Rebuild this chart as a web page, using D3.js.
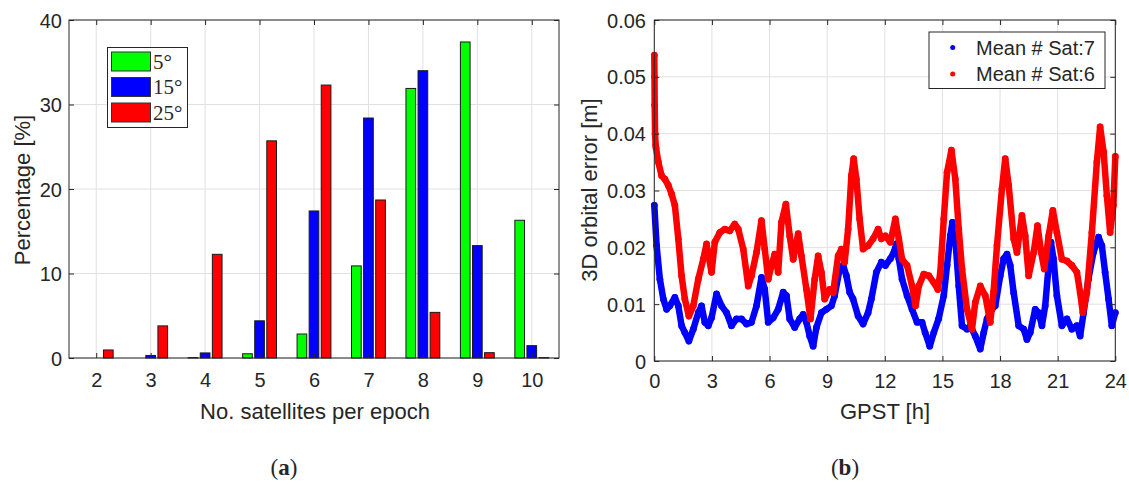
<!DOCTYPE html>
<html>
<head>
<meta charset="utf-8">
<script src="https://cdn.jsdelivr.net/npm/d3@7"></script>
<style>
  html, body { margin: 0; padding: 0; background: #fff; }
  svg { display: block; }
  text { font-family: "Liberation Sans", Arial, Helvetica, sans-serif; fill: #262626; }
</style>
</head>
<body>
<svg id="chart" width="1129" height="484"></svg>
<script>
// ---------- Data: panel (a) ----------
const satCounts = [2, 3, 4, 5, 6, 7, 8, 9, 10];
const pct5  = [0, 0, 0.05, 0.5, 2.84, 10.9, 31.9, 37.4, 16.3];
const pct15 = [0, 0.3, 0.6, 4.4, 17.4, 28.4, 34.0, 13.3, 1.46];
const pct25 = [0.95, 3.8, 12.27, 25.7, 32.3, 18.7, 5.4, 0.63, 0.05];
const seriesNamesA = ["5°", "15°", "25°"];
const yTicksA = [0, 10, 20, 30, 40];

// ---------- Data: panel (b) ----------
const blueHours = [0, 0.12, 0.29, 0.47, 0.64, 0.81, 1.07, 1.25, 1.42, 1.59, 1.80, 2.03, 2.29, 2.46, 2.63, 2.81, 2.98, 3.24, 3.50, 3.76, 4.02, 4.28, 4.54, 4.80, 5.06, 5.32, 5.58, 5.75, 5.93, 6.19, 6.45, 6.71, 6.88, 7.05, 7.31, 7.57, 7.75, 7.92, 8.09, 8.27, 8.44, 8.70, 8.96, 9.22, 9.39, 9.65, 9.83, 10.00, 10.17, 10.35, 10.61, 10.87, 11.13, 11.30, 11.56, 11.82, 12.03, 12.29, 12.47, 12.60, 12.73, 12.90, 13.16, 13.42, 13.68, 13.94, 14.10, 14.34, 14.55, 14.80, 15.07, 15.24, 15.41, 15.52, 15.67, 15.85, 16.02, 16.28, 16.45, 16.71, 16.97, 17.15, 17.32, 17.58, 17.75, 18.01, 18.19, 18.36, 18.53, 18.71, 18.97, 19.23, 19.40, 19.57, 19.83, 20.01, 20.18, 20.35, 20.53, 20.65, 20.78, 20.96, 21.22, 21.48, 21.74, 22.00, 22.17, 22.35, 22.60, 22.86, 23.13, 23.30, 23.47, 23.65, 23.82, 24.00];
const blueErr = [0.0274, 0.0203, 0.0144, 0.0109, 0.0091, 0.0097, 0.0112, 0.0097, 0.0062, 0.0050, 0.0035, 0.0056, 0.0085, 0.0097, 0.0068, 0.0062, 0.0076, 0.0118, 0.0097, 0.0085, 0.0062, 0.0074, 0.0074, 0.0065, 0.0068, 0.0097, 0.0147, 0.0126, 0.0068, 0.0076, 0.0091, 0.0121, 0.0115, 0.0074, 0.0059, 0.0074, 0.0082, 0.0068, 0.0044, 0.0026, 0.0059, 0.0085, 0.0091, 0.0097, 0.0115, 0.0162, 0.0168, 0.0150, 0.0121, 0.0109, 0.0079, 0.0065, 0.0085, 0.0109, 0.0156, 0.0174, 0.0168, 0.0180, 0.0191, 0.0206, 0.0180, 0.0144, 0.0115, 0.0091, 0.0068, 0.0068, 0.0050, 0.0026, 0.0050, 0.0074, 0.0115, 0.0168, 0.0220, 0.0244, 0.0215, 0.0132, 0.0062, 0.0056, 0.0062, 0.0044, 0.0021, 0.0050, 0.0074, 0.0091, 0.0097, 0.0150, 0.0180, 0.0188, 0.0168, 0.0120, 0.0062, 0.0056, 0.0038, 0.0050, 0.0091, 0.0085, 0.0062, 0.0097, 0.0168, 0.0209, 0.0180, 0.0115, 0.0062, 0.0074, 0.0056, 0.0062, 0.0044, 0.0085, 0.0144, 0.0191, 0.0218, 0.0203, 0.0156, 0.0109, 0.0062, 0.0085];

const redHours = [0, 0.01, 0.02, 0.04, 0.07, 0.09, 0.21, 0.38, 0.55, 0.73, 0.90, 1.07, 1.25, 1.42, 1.59, 1.80, 2.03, 2.29, 2.55, 2.72, 2.98, 3.15, 3.41, 3.67, 3.93, 4.19, 4.37, 4.63, 4.89, 5.06, 5.32, 5.58, 5.75, 5.93, 6.10, 6.27, 6.45, 6.62, 6.85, 7.05, 7.23, 7.49, 7.66, 7.92, 8.13, 8.35, 8.53, 8.70, 8.87, 9.13, 9.31, 9.57, 9.74, 9.91, 10.09, 10.26, 10.38, 10.52, 10.69, 10.87, 11.13, 11.39, 11.65, 11.82, 12.03, 12.29, 12.55, 12.73, 12.90, 13.16, 13.42, 13.60, 13.77, 14.03, 14.29, 14.55, 14.76, 14.89, 15.07, 15.24, 15.47, 15.67, 15.85, 16.02, 16.28, 16.54, 16.71, 16.97, 17.23, 17.49, 17.66, 17.84, 18.10, 18.27, 18.45, 18.71, 18.88, 19.14, 19.31, 19.49, 19.75, 19.95, 20.14, 20.30, 20.53, 20.75, 20.96, 21.22, 21.48, 21.74, 22.00, 22.17, 22.31, 22.52, 22.78, 23.04, 23.21, 23.39, 23.56, 23.73, 23.90, 24.00];
const redErr = [0.0538, 0.0500, 0.0450, 0.0400, 0.0380, 0.0375, 0.0350, 0.0326, 0.0320, 0.0309, 0.0294, 0.0274, 0.0215, 0.0150, 0.0109, 0.0079, 0.0097, 0.0144, 0.0179, 0.0206, 0.0156, 0.0209, 0.0226, 0.0232, 0.0229, 0.0241, 0.0232, 0.0197, 0.0132, 0.0150, 0.0191, 0.0247, 0.0197, 0.0144, 0.0168, 0.0188, 0.0156, 0.0244, 0.0276, 0.0220, 0.0179, 0.0224, 0.0185, 0.0126, 0.0074, 0.0144, 0.0185, 0.0156, 0.0109, 0.0126, 0.0120, 0.0185, 0.0197, 0.0174, 0.0232, 0.0326, 0.0356, 0.0320, 0.0250, 0.0197, 0.0203, 0.0215, 0.0232, 0.0215, 0.0220, 0.0209, 0.0250, 0.0215, 0.0179, 0.0168, 0.0132, 0.0097, 0.0132, 0.0153, 0.0150, 0.0138, 0.0126, 0.0156, 0.0250, 0.0332, 0.0371, 0.0320, 0.0232, 0.0162, 0.0091, 0.0056, 0.0103, 0.0132, 0.0115, 0.0068, 0.0121, 0.0203, 0.0303, 0.0356, 0.0309, 0.0215, 0.0191, 0.0256, 0.0220, 0.0150, 0.0191, 0.0238, 0.0191, 0.0162, 0.0220, 0.0265, 0.0226, 0.0179, 0.0176, 0.0168, 0.0156, 0.0120, 0.0085, 0.0120, 0.0226, 0.0350, 0.0412, 0.0368, 0.0291, 0.0226, 0.0274, 0.0360];
const seriesNamesB = ["Mean # Sat:7", "Mean # Sat:6"];
const xTicksB = [0, 3, 6, 9, 12, 15, 18, 21, 24];
const yTicksB = [0, 0.01, 0.02, 0.03, 0.04, 0.05, 0.06];

// ---------- Rendering ----------
const svg = d3.select("#chart");
const AX = "#262626", GRID = "#e0e0e0", TL = 5;
const barColors = ["#00ff00", "#0000ff", "#ff0000"];

function frame(g, x, y, xt, yt) {
  const [x0, x1] = x.range(), [y0, y1] = y.range();
  g.append("g").selectAll("line").data(xt).join("line")
    .attr("x1", d => x(d)).attr("x2", d => x(d)).attr("y1", y0).attr("y2", y1)
    .attr("stroke", GRID).attr("stroke-width", 1);
  g.append("g").selectAll("line").data(yt).join("line")
    .attr("y1", d => y(d)).attr("y2", d => y(d)).attr("x1", x0).attr("x2", x1)
    .attr("stroke", GRID).attr("stroke-width", 1);
}
function box(g, x, y, xt, yt, xFmt, yFmt, xLabY, yLabX) {
  const [x0, x1] = x.range(), [y0, y1] = y.range();
  const axB = d3.axisBottom(x).tickValues(xt).tickSizeInner(-TL).tickSizeOuter(0).tickFormat(xFmt);
  const axT = d3.axisTop(x).tickValues(xt).tickSizeInner(-TL).tickSizeOuter(0).tickFormat("");
  const axL = d3.axisLeft(y).tickValues(yt).tickSizeInner(-TL).tickSizeOuter(0).tickFormat(yFmt);
  const axR = d3.axisRight(y).tickValues(yt).tickSizeInner(-TL).tickSizeOuter(0).tickFormat("");
  const style = s => {
    s.selectAll("path").attr("stroke", AX).attr("stroke-width", 1);
    s.selectAll("line").attr("stroke", AX).attr("stroke-width", 1);
    s.selectAll("text").attr("fill", AX).style("font-size", "20px")
      .style("font-family", '"Liberation Sans", Arial, sans-serif');
  };
  g.append("g").attr("transform", `translate(0,${y0})`).call(axB).call(style)
    .selectAll("text").attr("dy", null).attr("y", xLabY - y0).attr("dominant-baseline", "central");
  g.append("g").attr("transform", `translate(0,${y1})`).call(axT).call(style);
  g.append("g").attr("transform", `translate(${x0},0)`).call(axL).call(style)
    .selectAll("text").attr("dy", null).attr("x", yLabX - x0).attr("dominant-baseline", "central");
  g.append("g").attr("transform", `translate(${x1},0)`).call(axR).call(style);
  g.selectAll(".domain").remove();
  g.append("rect").attr("x", x0).attr("y", y1).attr("width", x1 - x0).attr("height", y0 - y1)
    .attr("fill", "none").attr("stroke", AX).attr("stroke-width", 1);
}

// ----- Panel (a) -----
const xa = d3.scaleLinear().domain([1.5, 10.5]).range([69, 559]);
const ya = d3.scaleLinear().domain([0, 40]).range([358, 20]);
const ga = svg.append("g");
frame(ga, xa, ya, satCounts, yTicksA);
const unitPx = xa(3) - xa(2);
const offsets = [-0.222, 0, 0.222];
const bw = 0.178 * unitPx;
[pct5, pct15, pct25].forEach((vals, si) => {
  ga.append("g").selectAll("rect").data(vals).join("rect")
    .attr("x", (d, i) => xa(satCounts[i] + offsets[si]) - bw / 2)
    .attr("y", d => ya(d))
    .attr("width", bw)
    .attr("height", d => ya(0) - ya(d))
    .attr("fill", barColors[si])
    .attr("stroke", "#1a1a1a").attr("stroke-width", 1);
});
box(ga, xa, ya, satCounts, yTicksA, d3.format("d"), d3.format("d"), 380, 62);
// legend (a)
const lga = ga.append("g");
lga.append("rect").attr("x", 107.5).attr("y", 47.5).attr("width", 80).attr("height", 80)
  .attr("fill", "#fff").attr("stroke", AX).attr("stroke-width", 1);
seriesNamesA.forEach((nm, i) => {
  const cy = 61.5 + i * 25.5;
  lga.append("rect").attr("x", 111.5).attr("y", cy - 9.5).attr("width", 39).attr("height", 19)
    .attr("fill", barColors[i]).attr("stroke", "#333").attr("stroke-width", 1);
  lga.append("text").attr("x", 153).attr("y", cy + 7).text(nm)
    .style("font-family", '"Liberation Serif", "DejaVu Serif", serif').style("font-size", "21px").attr("fill", "#000");
});
ga.append("text").attr("x", 315).attr("y", 411).attr("text-anchor", "middle")
  .attr("dominant-baseline", "central").style("font-size", "22px").text("No. satellites per epoch");
ga.append("text").attr("transform", "translate(22,190) rotate(-90)").attr("text-anchor", "middle")
  .attr("dominant-baseline", "central").style("font-size", "22px").text("Percentage [%]");

// ----- Panel (b) -----
const xb = d3.scaleLinear().domain([0, 24]).range([654.3, 1115.3]);
const yb = d3.scaleLinear().domain([0, 0.06]).range([361, 20]);
const gb = svg.append("g");
frame(gb, xb, yb, xTicksB, yTicksB);
svg.append("defs").append("clipPath").attr("id", "clipB")
  .append("rect").attr("x", 651).attr("y", 18).attr("width", 468).attr("height", 345);
const plotB = gb.append("g").attr("clip-path", "url(#clipB)");
const series = [
  { h: blueHours, v: blueErr, c: "#0000ff" },
  { h: redHours, v: redErr, c: "#ff0000" }
];
series.forEach(s => {
  const pts = s.h.map((h, i) => [h, s.v[i]]);
  plotB.append("path").datum(pts)
    .attr("d", d3.line().x(d => xb(d[0])).y(d => yb(d[1])))
    .attr("fill", "none").attr("stroke", s.c).attr("stroke-width", 6.5)
    .attr("stroke-linejoin", "round").attr("stroke-linecap", "round");
  plotB.append("g").selectAll("circle").data(pts).join("circle")
    .attr("cx", d => xb(d[0])).attr("cy", d => yb(d[1])).attr("r", 3.4).attr("fill", s.c);
});
box(gb, xb, yb, xTicksB, yTicksB, d3.format("d"), d => d === 0 ? "0" : d3.format(".2f")(d), 381, 646);
// legend (b)
const lgb = gb.append("g");
lgb.append("rect").attr("x", 929).attr("y", 32).attr("width", 176).attr("height", 56.5)
  .attr("fill", "#fff").attr("stroke", AX).attr("stroke-width", 1);
series.forEach((s, i) => {
  const cy = 47.5 + i * 26.5;
  lgb.append("circle").attr("cx", 952.7).attr("cy", cy).attr("r", 2.5).attr("fill", s.c);
  lgb.append("text").attr("x", 976).attr("y", cy).attr("dominant-baseline", "central")
    .style("font-size", "20px").attr("fill", "#000").text(seriesNamesB[i]);
});
gb.append("text").attr("x", 885).attr("y", 411).attr("text-anchor", "middle")
  .attr("dominant-baseline", "central").style("font-size", "22px").text("GPST [h]");
gb.append("text").attr("transform", "translate(589,190) rotate(-90)").attr("text-anchor", "middle")
  .attr("dominant-baseline", "central").style("font-size", "22px").text("3D orbital error [m]");

// captions
[["a", 284], ["b", 845]].forEach(([l, x]) => {
  const t = svg.append("text").attr("x", x).attr("y", 475).attr("text-anchor", "middle")
    .style("font-family", '"Liberation Serif", "DejaVu Serif", serif').style("font-size", "23px").attr("fill", "#000");
  t.append("tspan").text("(");
  t.append("tspan").attr("font-weight", "bold").text(l);
  t.append("tspan").text(")");
});
</script>
</body>
</html>
